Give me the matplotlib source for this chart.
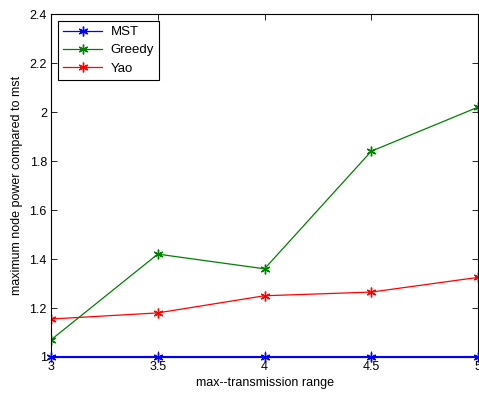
import numpy as np
import matplotlib.pyplot as plt

ranges = [3, 3.5, 4, 4.5, 5]
mst = [1, 1, 1, 1, 1]
greedy = [1.07, 1.42, 1.36, 1.84, 2.02]
yao = [1.155, 1.18, 1.25, 1.265, 1.325]

plt.rcParams['font.family'] = ['Liberation Sans', 'DejaVu Sans']
plt.rcParams['font.size'] = 9

fig = plt.figure(figsize=(4.79, 3.96), dpi=100)
ax = fig.add_axes([0.1065, 0.0985, 0.8915, 0.866])

ax.plot(ranges, mst, color=(0, 0, 1), marker=(6, 2, 0), markersize=7, lw=1.5,
        clip_on=False, zorder=3, label="MST")
ax.plot(ranges, greedy, color=(0, 0.5, 0), marker=(6, 2, 0), markersize=7, lw=0.9, label="Greedy")
ax.plot(ranges, yao, color=(1, 0, 0), marker=(6, 2, 0), markersize=7, lw=0.9, label="Yao")

ax.set_xlim(3, 5)
ax.set_ylim(1, 2.4)
ax.set_xticks([3, 3.5, 4, 4.5, 5])
ax.set_xticklabels(["3", "3.5", "4", "4.5", "5"])
ax.set_yticks([1, 1.2, 1.4, 1.6, 1.8, 2, 2.2, 2.4])
ax.set_yticklabels(["1", "1.2", "1.4", "1.6", "1.8", "2", "2.2", "2.4"])
ax.tick_params(direction='in', top=True, right=True, length=4, width=0.6, pad=3)
for s in ax.spines.values():
    s.set_linewidth(0.8)

ax.set_xlabel("max--transmission range", labelpad=3)
ax.set_ylabel("maximum node power compared to mst", labelpad=5)

leg = ax.legend(loc='upper left', fancybox=False, edgecolor='black', framealpha=1,
                handlelength=3.0, handletextpad=0.6, borderaxespad=0.5,
                labelspacing=0.45, fontsize=9.5)
leg.get_frame().set_linewidth(0.8)
leg.get_lines()[0].set_linewidth(0.9)

plt.savefig("out.png", format="png")
